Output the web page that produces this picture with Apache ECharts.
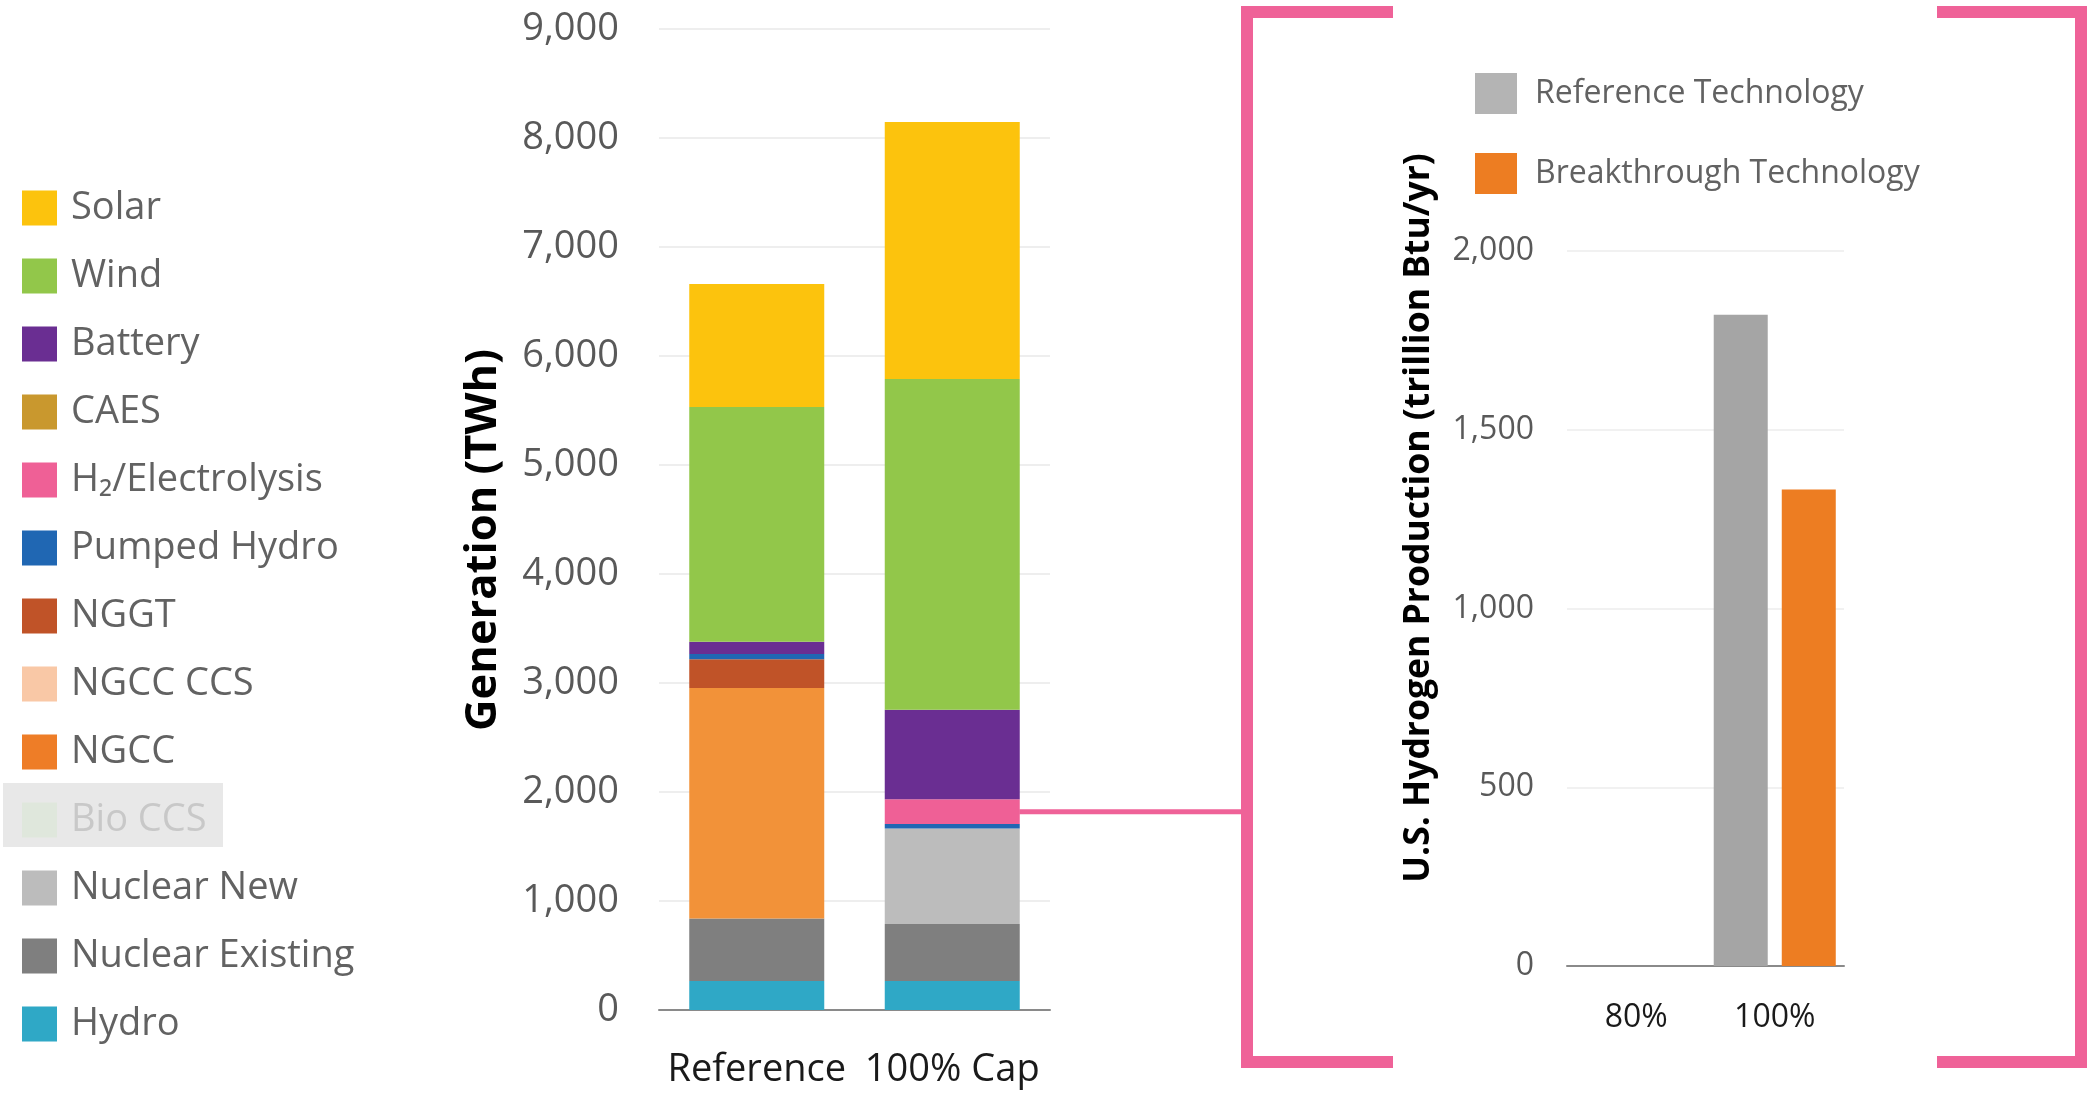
<!DOCTYPE html>
<html><head><meta charset="utf-8">
<script src="https://cdn.jsdelivr.net/npm/echarts@6/dist/echarts.min.js"></script>
<style>html,body{margin:0;padding:0;background:#fff}#c{width:2088px;height:1095px}</style>
</head><body><div id="c"></div><script>
// ---- data (TWh) ----
const scenarios = ['Reference', '100% Cap'];
const hydro = [265, 265];
const nuclearExisting = [575, 523];
const nuclearNew = [0, 878];
const bioCCS = [0, 0];
const ngcc = [2114, 0];
const ngccCCS = [0, 0];
const nggt = [263, 0];
const pumpedHydro = [49, 40];
const h2Electrolysis = [0, 227];
const caes = [0, 0];
const battery = [113, 822];
const wind = [2153, 3033];
const solar = [1128, 2358];
// ---- hydrogen production (trillion Btu/yr) ----
const h2Scenarios = ['80%', '100%'];
const h2Reference = [0, 1822];
const h2Breakthrough = [0, 1333];

const FONT = '"Open Sans", "Noto Sans", sans-serif';
const H2NAME = 'H\u2082/Electrolysis';

const genSeries = [
  ['Hydro', hydro, '#2FA8C6'],
  ['Nuclear Existing', nuclearExisting, '#7F7F7F'],
  ['Nuclear New', nuclearNew, '#BCBCBC'],
  ['Bio CCS', bioCCS, '#DFE7DC'],
  ['NGCC', ngcc, '#F29239'],
  ['NGCC CCS', ngccCCS, '#F9C8A6'],
  ['NGGT', nggt, '#C05328'],
  ['Pumped Hydro', pumpedHydro, '#2067B3'],
  [H2NAME, h2Electrolysis, '#EF6096'],
  ['CAES', caes, '#C9982E'],
  ['Battery', battery, '#6A2E92'],
  ['Wind', wind, '#92C74A'],
  ['Solar', solar, '#FCC30D']
];

const series = genSeries.map(([name, data, color]) => ({
  name, type: 'bar', stack: 'gen', data, xAxisIndex: 0, yAxisIndex: 0,
  barWidth: 135, itemStyle: { color }, emphasis: { disabled: true }
}));
series.push({
  name: 'Reference Technology', type: 'bar', data: h2Reference, xAxisIndex: 1, yAxisIndex: 1,
  barWidth: 54, barGap: '26%', itemStyle: { color: '#A5A5A5' }, emphasis: { disabled: true }
});
series.push({
  name: 'Breakthrough Technology', type: 'bar', data: h2Breakthrough, xAxisIndex: 1, yAxisIndex: 1,
  barWidth: 54, barGap: '26%', itemStyle: { color: '#ED7D22' }, emphasis: { disabled: true }
});

const legendOrder = ['Solar', 'Wind', 'Battery', 'CAES', H2NAME, 'Pumped Hydro', 'NGGT',
  'NGCC CCS', 'NGCC', 'Bio CCS', 'Nuclear New', 'Nuclear Existing', 'Hydro'];
const legendData = legendOrder.map(n => {
  if (n === 'Bio CCS') return { name: n, itemStyle: { color: '#DFE7DC' }, textStyle: { color: '#C8C8C8' } };
  if (n === 'NGCC') return { name: n, itemStyle: { color: '#EE7D27' } };
  return { name: n };
});

const option = {
  animation: false,
  backgroundColor: '#fff',
  grid: [
    { left: 659, top: 29, width: 391, height: 981 },
    { left: 1567, top: 251, width: 277, height: 715 }
  ],
  xAxis: [
    { type: 'category', gridIndex: 0, data: scenarios,
      axisLine: { lineStyle: { color: '#8A8A8A', width: 2 } }, axisTick: { show: false },
      axisLabel: { interval: 0, fontFamily: FONT, fontSize: 38, color: '#1A1A1A', margin: 41, lineHeight: 38 } },
    { type: 'category', gridIndex: 1, data: h2Scenarios,
      axisLine: { lineStyle: { color: '#8A8A8A', width: 2 } }, axisTick: { show: false },
      axisLabel: { interval: 0, fontFamily: FONT, fontSize: 32, color: '#1A1A1A', margin: 36, lineHeight: 32 } }
  ],
  yAxis: [
    { type: 'value', gridIndex: 0, min: 0, max: 9000, interval: 1000,
      axisLine: { show: false }, axisTick: { show: false },
      splitLine: { lineStyle: { color: '#E8E8E8', width: 1.5 } },
      axisLabel: { fontFamily: FONT, fontSize: 38, color: '#595959', margin: 40,
        formatter: v => v.toLocaleString('en-US') } },
    { type: 'value', gridIndex: 1, min: 0, max: 2000, interval: 500,
      axisLine: { show: false }, axisTick: { show: false },
      splitLine: { lineStyle: { color: '#ECECEC', width: 1.5 } },
      axisLabel: { fontFamily: FONT, fontSize: 32, color: '#595959', margin: 33,
        formatter: v => v.toLocaleString('en-US') } }
  ],
  legend: [
    { orient: 'vertical', left: 22, top: 189, padding: 0, icon: 'rect',
      itemWidth: 35, itemHeight: 35, itemGap: 30,
      selectedMode: false, data: legendData,
      textStyle: { fontFamily: FONT, fontSize: 38, color: '#626262', padding: [0, 0, 0, 9] } },
    { orient: 'vertical', left: 1475, top: 73, padding: 0, icon: 'rect',
      itemWidth: 42, itemHeight: 41, itemGap: 39,
      selectedMode: false,
      data: [{ name: 'Reference Technology', itemStyle: { color: '#B4B4B4' } }, { name: 'Breakthrough Technology' }],
      textStyle: { fontFamily: FONT, fontSize: 32, color: '#626262', padding: [0, 0, 0, 13] } }
  ],
  series
};

const chart = echarts.init(document.getElementById('c'));
chart.setOption(option);

// connector from H2 segment of 100% Cap bar to the callout bracket
let below = 0;
for (const [name, data] of genSeries) { if (name === H2NAME) break; below += data[1]; }
const mid = below + h2Electrolysis[1] / 2;
const p = chart.convertToPixel({ xAxisIndex: 0, yAxisIndex: 0 }, [1, mid]);
const PINK = '#EF6298';

chart.setOption({
  graphic: [
    { type: 'rect', z: 0, shape: { x: 3, y: 783, width: 220, height: 64 }, style: { fill: '#E8E8E8' } },
    { type: 'line', z: 10, shape: { x1: p[0] + 67, y1: p[1], x2: 1247, y2: p[1] },
      style: { stroke: PINK, lineWidth: 5 } },
    { type: 'polyline', z: 10, shape: { points: [[1393, 12], [1247, 12], [1247, 1062], [1393, 1062]] },
      style: { stroke: PINK, lineWidth: 12, fill: null, lineJoin: 'miter' } },
    { type: 'polyline', z: 10, shape: { points: [[1937, 12], [2081, 12], [2081, 1062], [1937, 1062]] },
      style: { stroke: PINK, lineWidth: 12, fill: null, lineJoin: 'miter' } },
    { type: 'text', z: 10, x: 484, y: 540, rotation: Math.PI / 2,
      style: { text: 'Generation (TWh)', font: 'bold 43.5px ' + FONT, fill: '#000',
        align: 'center', verticalAlign: 'middle', textAlign: 'center', textVerticalAlign: 'middle' } },
    { type: 'text', z: 10, x: 1419, y: 518, rotation: Math.PI / 2,
      style: { text: 'U.S. Hydrogen Production (trillion Btu/yr)', font: 'bold 35.5px ' + FONT, fill: '#000',
        align: 'center', verticalAlign: 'middle', textAlign: 'center', textVerticalAlign: 'middle' } }
  ]
});
</script></body></html>
